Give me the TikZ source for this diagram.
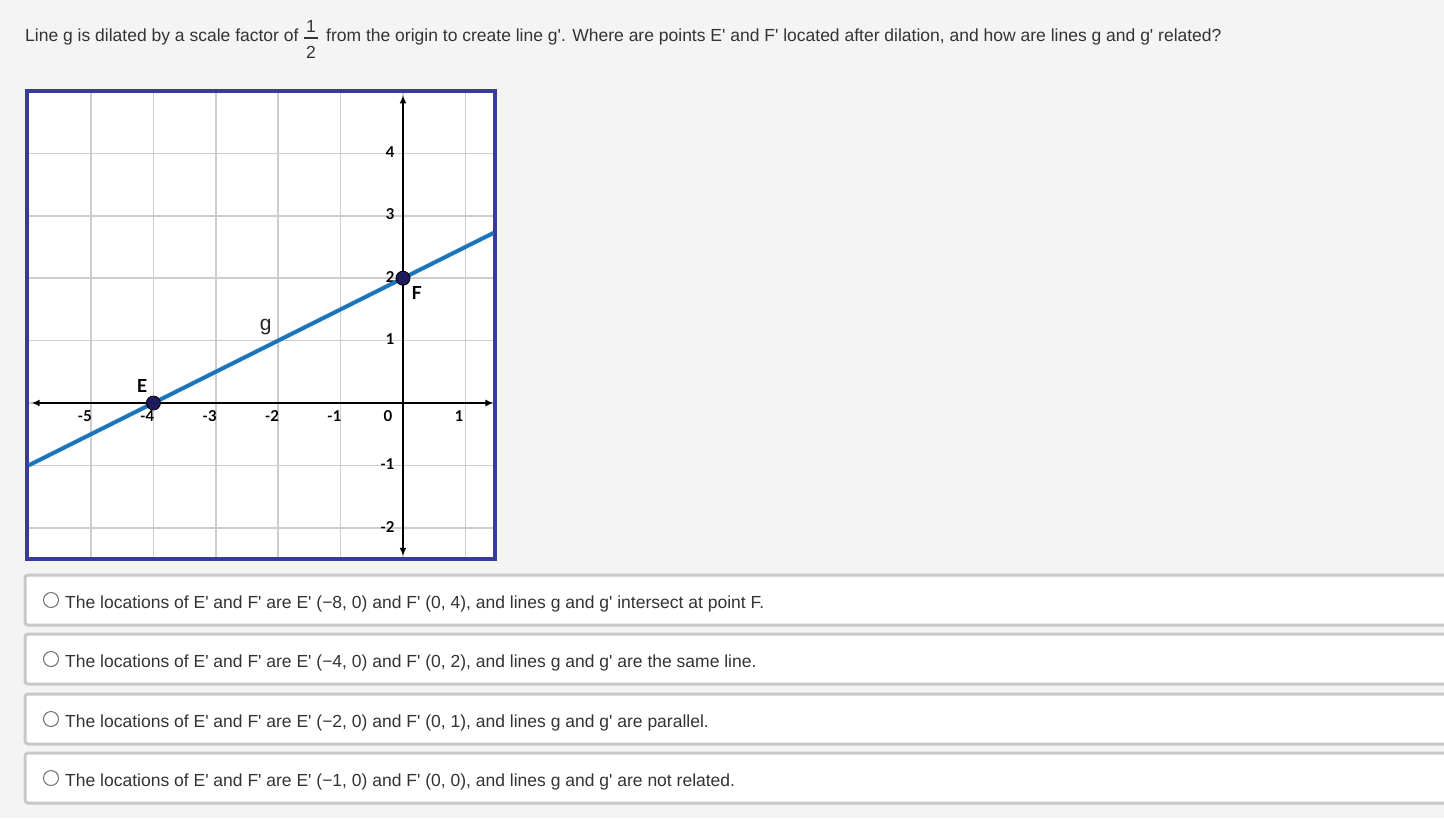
\documentclass[tikz,border=0pt]{standalone}
\usepackage{fontspec}
\setmainfont{Liberation Sans}
\newfontfamily\qfont{Liberation Sans}
\newfontfamily\axisfont{Lato}
\usetikzlibrary{arrows.meta}
\definecolor{pagebg}{HTML}{F4F4F4}
\definecolor{textgray}{HTML}{333333}
\definecolor{boxgray}{HTML}{C8C8C8}
\definecolor{radiogray}{HTML}{707070}
\definecolor{framenavy}{HTML}{3A3A98}
\definecolor{gridgray}{HTML}{CDCDCD}
\definecolor{gblue}{HTML}{1B75BB}
\definecolor{dotnavy}{HTML}{1D1B5C}
\begin{document}
\begin{tikzpicture}[x=1bp,y=-1bp,
  gridline/.style={draw=gridgray,line width=1.5bp},
  frameline/.style={draw=framenavy,line width=4bp},
  axisline/.style={line width=2.4bp,{Latex[length=8bp,width=7bp]}-{Latex[length=8bp,width=7bp]}},
  gline/.style={draw=gblue,line width=4bp},
  ticklbl/.style={font=\axisfont\bfseries\fontsize{15bp}{17bp}\selectfont,inner sep=0pt},
  ptlbl/.style={font=\axisfont\bfseries\fontsize{18bp}{20bp}\selectfont,inner sep=0pt},
  dot/.style={circle,fill=dotnavy,draw=black,line width=0.8bp,minimum size=14bp,inner sep=0pt},
  qtext/.style={font=\qfont\fontsize{17.5bp}{20bp}\selectfont,text=textgray,inner sep=0pt},
  optbox/.style={draw=boxgray,line width=3bp,fill=white,rounded corners=3bp},
  radio/.style={circle,draw=radiogray,line width=1bp,fill=white,minimum size=15bp,inner sep=0pt},
  opttext/.style={font=\qfont\fontsize{17.5bp}{20bp}\selectfont,text=textgray,anchor=base west,inner sep=0pt}]

  \fill[pagebg] (0,0) rectangle (1444,818);
  \useasboundingbox (0,0) rectangle (1444,818);

  \node[qtext,anchor=base west] (qa) at (25,42) {Line g is dilated by a scale factor of};
  \node[qtext,anchor=base] (qnum) at (311,33) {1};
  \node[qtext,anchor=base] (qden) at (311,59) {2};
  \draw[textgray,line width=1.2bp] (304,38) -- (318,38);
  \node[qtext,anchor=base west] (qb) at (326,42) {from the origin to create line g'. Where are points E' and F' located after dilation, and how are lines g and g' related?};

  \begin{scope}[shift={(403,403)},x=62.4bp,y=62.4bp]
    \fill[white] (-6.03,-2.5) rectangle (1.47,5.0);
    \foreach \i in {-5,...,1} \draw[gridline] (\i,-2.47) -- (\i,4.97);
    \foreach \j in {-2,...,4} \draw[gridline] (-6,\j) -- (1.44,\j);
    \draw[frameline] (-6.03,-2.5) rectangle (1.47,5.0);

    \coordinate (xl) at (-5.95,0);
    \coordinate (xr) at (1.45,0);
    \coordinate (yb) at (0,-2.45);
    \coordinate (yt) at (0,4.93);
    \draw[axisline] (xl) -- (xr);
    \draw[axisline] (yb) -- (yt);

    \foreach \i [count=\k] in {-5,-4,-3,-2,-1,1}
      \node[ticklbl] (xt\k) at (\i-0.1,-0.21) {\i};
    \node[ticklbl] (xt0) at (-0.24,-0.21) {0};
    \foreach \j [count=\k] in {-2,-1,1,2,3,4}
      \node[ticklbl,anchor=east] (yt\k) at (-0.13,\j+0.02) {\j};

    \coordinate (gstart) at (-6,-1);
    \coordinate (gend) at (1.45,2.725);
    \draw[gline] (gstart) -- (gend);

    \node[dot] (E) at (-4,0) {};
    \node[dot] (F) at (0,2) {};
    \node[ptlbl] (Elbl) at (-4.18,0.27) {E};
    \node[ptlbl] (Flbl) at (0.22,1.76) {F};
    \node[ptlbl,font=\qfont\fontsize{21bp}{23bp}\selectfont,text=black!85] (glbl) at (-2.2,1.22) {g};
  \end{scope}

  \foreach \yy/\txt [count=\k] in {
    600/{The locations of E' and F' are E' (−8, 0) and F' (0, 4), and lines g and g' intersect at point F.},
    659/{The locations of E' and F' are E' (−4, 0) and F' (0, 2), and lines g and g' are the same line.},
    719/{The locations of E' and F' are E' (−2, 0) and F' (0, 1), and lines g and g' are parallel.},
    778/{The locations of E' and F' are E' (−1, 0) and F' (0, 0), and lines g and g' are not related.}}{
    \draw[optbox] (25,\yy-25) rectangle (1452,\yy+25);
    \node[radio] (radio\k) at (51,\yy) {};
    \node[opttext] (opt\k) at (65,\yy+8) {\txt};
  }
\end{tikzpicture}
\end{document}
